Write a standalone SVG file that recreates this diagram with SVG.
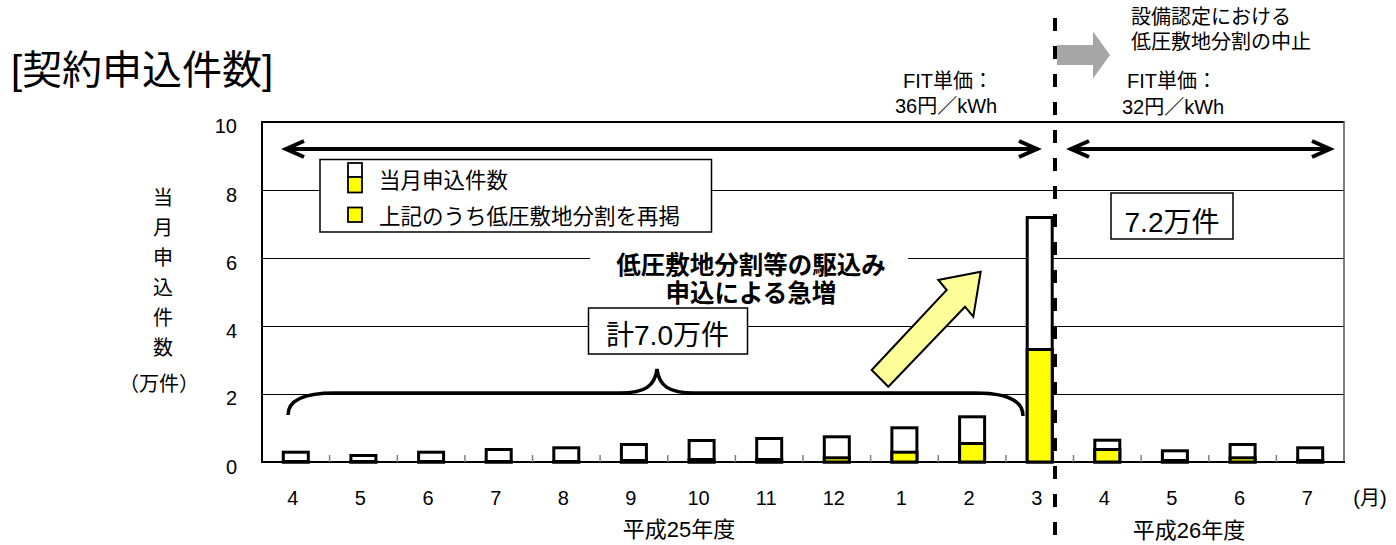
<svg xmlns="http://www.w3.org/2000/svg" width="1396" height="545" viewBox="0 0 1396 545">
<style>
text{font-family:'Liberation Sans','Noto Sans CJK JP',sans-serif;fill:#000}
.grid{stroke:#000;stroke-width:1}
.bw{fill:#fff;stroke:#000;stroke-width:3}
.by{fill:#ffff00;stroke:#000;stroke-width:3}
.tick{stroke:#7f7f7f;stroke-width:1.5}
.xl{font-size:20px;text-anchor:middle}
.yl{font-size:20px;text-anchor:end}
.box{fill:#fff;stroke:#000;stroke-width:1.5}
.dbl{stroke:#000;stroke-width:4;fill:none;marker-start:url(#chev);marker-end:url(#chev)}
</style>
<defs>
<marker id="chev" markerUnits="userSpaceOnUse" viewBox="-22 -12 24 24" markerWidth="24" markerHeight="24" refX="0" refY="0" orient="auto-start-reverse" overflow="visible">
<path d="M-19,-8 L-1,0 L-19,8" fill="none" stroke="#000" stroke-width="4"/>
</marker>
</defs>
<rect width="1396" height="545" fill="#fff"/>

<g id="title"><text x="11" y="84" font-size="40">[契約申込件数]</text></g>

<g id="plot-frame">
<line class="grid" x1="262" y1="190.5" x2="1344" y2="190.5"/>
<line class="grid" x1="262" y1="258.5" x2="1344" y2="258.5"/>
<line class="grid" x1="262" y1="326.5" x2="1344" y2="326.5"/>
<line class="grid" x1="262" y1="394.5" x2="1344" y2="394.5"/>
<line x1="262" y1="122" x2="1344" y2="122" stroke="#000" stroke-width="2"/>
<line x1="262" y1="121" x2="262" y2="463" stroke="#000" stroke-width="2"/>
<line x1="1344" y1="121" x2="1344" y2="463" stroke="#555" stroke-width="1.5"/>
</g>

<g id="y-axis">
<text class="yl" x="237" y="133">10</text>
<text class="yl" x="237" y="202">8</text>
<text class="yl" x="237" y="270">6</text>
<text class="yl" x="237" y="338">4</text>
<text class="yl" x="237" y="405">2</text>
<text class="yl" x="237" y="474">0</text>
<g font-size="20" text-anchor="middle">
<text x="163" y="204.5">当</text>
<text x="163" y="234.5">月</text>
<text x="163" y="264.5">申</text>
<text x="163" y="294.5">込</text>
<text x="163" y="324.5">件</text>
<text x="163" y="354.5">数</text>
<text x="159" y="391">（万件）</text>
</g>
</g>

<g id="legend">
<rect class="box" x="320" y="159.5" width="391.5" height="72.5"/>
<rect x="348" y="163" width="14" height="14" fill="#fff" stroke="#000" stroke-width="1.8"/>
<rect x="348" y="177" width="14" height="15.5" fill="#ffff00" stroke="#000" stroke-width="1.8"/>
<rect x="348" y="207.5" width="14" height="14.5" fill="#ffff00" stroke="#000" stroke-width="1.8"/>
<text x="379" y="187.5" font-size="21.5">当月申込件数</text>
<text x="379" y="223.5" font-size="21.5">上記のうち低圧敷地分割を再掲</text>
</g>

<g id="surge-label">
<rect x="590" y="244" width="318" height="62" fill="#fff"/>
<text x="751" y="273.5" font-size="24.5" font-weight="bold" text-anchor="middle">低圧敷地分割等の駆込み</text>
<text x="751" y="301.5" font-size="24.5" font-weight="bold" text-anchor="middle">申込による急増</text>
</g>

<g id="total-fy25">
<rect class="box" x="588.5" y="308" width="159" height="46"/>
<text x="667.5" y="345" font-size="28" text-anchor="middle">計7.0万件</text>
</g>

<g id="total-fy26">
<rect class="box" x="1111" y="193" width="122" height="46"/>
<text x="1172" y="232" font-size="28" text-anchor="middle">7.2万件</text>
</g>

<g id="bars">
<rect class="bw" x="283.3" y="452.2" width="25" height="9.8"/><rect class="by" x="283.3" y="461.5" width="25" height="0.5"/>
<rect class="bw" x="350.9" y="455.5" width="25" height="6.5"/><rect class="by" x="350.9" y="461.5" width="25" height="0.5"/>
<rect class="bw" x="418.6" y="452.2" width="25" height="9.8"/><rect class="by" x="418.6" y="461.5" width="25" height="0.5"/>
<rect class="bw" x="486.2" y="449.5" width="25" height="12.5"/><rect class="by" x="486.2" y="461.5" width="25" height="0.5"/>
<rect class="bw" x="553.8" y="447.8" width="25" height="14.2"/><rect class="by" x="553.8" y="461.5" width="25" height="0.5"/>
<rect class="bw" x="621.4" y="444.5" width="25" height="17.5"/><rect class="by" x="621.4" y="460.5" width="25" height="1.5"/>
<rect class="bw" x="689.1" y="440.5" width="25" height="21.5"/><rect class="by" x="689.1" y="459.5" width="25" height="2.5"/>
<rect class="bw" x="756.7" y="438.5" width="25" height="23.5"/><rect class="by" x="756.7" y="459.5" width="25" height="2.5"/>
<rect class="bw" x="824.3" y="436.8" width="25" height="25.2"/><rect class="by" x="824.3" y="457.8" width="25" height="4.2"/>
<rect class="bw" x="891.9" y="427.8" width="25" height="34.2"/><rect class="by" x="891.9" y="452.2" width="25" height="9.8"/>
<rect class="bw" x="959.6" y="416.8" width="25" height="45.2"/><rect class="by" x="959.6" y="443.5" width="25" height="18.5"/>
<rect class="bw" x="1027.2" y="217.5" width="25" height="244.5"/><rect class="by" x="1027.2" y="349.5" width="25" height="112.5"/>
<rect class="bw" x="1094.8" y="440.2" width="25" height="21.8"/><rect class="by" x="1094.8" y="449.5" width="25" height="12.5"/>
<rect class="bw" x="1162.4" y="450.8" width="25" height="11.2"/><rect class="by" x="1162.4" y="460.5" width="25" height="1.5"/>
<rect class="bw" x="1230.1" y="444.5" width="25" height="17.5"/><rect class="by" x="1230.1" y="457.8" width="25" height="4.2"/>
<rect class="bw" x="1297.7" y="447.8" width="25" height="14.2"/><rect class="by" x="1297.7" y="460.5" width="25" height="1.5"/>
</g>

<g id="x-axis">
<line x1="261" y1="462" x2="1345" y2="462" stroke="#000" stroke-width="2"/>
<g class="tick">
<line x1="329.6" y1="455" x2="329.6" y2="462"/><line x1="397.3" y1="455" x2="397.3" y2="462"/>
<line x1="464.9" y1="455" x2="464.9" y2="462"/><line x1="532.5" y1="455" x2="532.5" y2="462"/>
<line x1="600.1" y1="455" x2="600.1" y2="462"/><line x1="667.8" y1="455" x2="667.8" y2="462"/>
<line x1="735.4" y1="455" x2="735.4" y2="462"/><line x1="803" y1="455" x2="803" y2="462"/>
<line x1="870.6" y1="455" x2="870.6" y2="462"/><line x1="938.3" y1="455" x2="938.3" y2="462"/>
<line x1="1005.9" y1="455" x2="1005.9" y2="462"/><line x1="1073.5" y1="455" x2="1073.5" y2="462"/>
<line x1="1141.1" y1="455" x2="1141.1" y2="462"/><line x1="1208.8" y1="455" x2="1208.8" y2="462"/>
<line x1="1276.4" y1="455" x2="1276.4" y2="462"/>
</g>
<text class="xl" x="292.8" y="505">4</text>
<text class="xl" x="360.4" y="505">5</text>
<text class="xl" x="428.1" y="505">6</text>
<text class="xl" x="495.7" y="505">7</text>
<text class="xl" x="563.3" y="505">8</text>
<text class="xl" x="630.9" y="505">9</text>
<text class="xl" x="698.6" y="505">10</text>
<text class="xl" x="766.2" y="505">11</text>
<text class="xl" x="833.8" y="505">12</text>
<text class="xl" x="901.4" y="505">1</text>
<text class="xl" x="969.1" y="505">2</text>
<text class="xl" x="1036.7" y="505">3</text>
<text class="xl" x="1104.3" y="505">4</text>
<text class="xl" x="1171.9" y="505">5</text>
<text class="xl" x="1239.6" y="505">6</text>
<text class="xl" x="1307.2" y="505">7</text>
<text class="xl" x="1370" y="505">(月)</text>
<text x="679" y="537" font-size="22" text-anchor="middle">平成25年度</text>
<text x="1189" y="538" font-size="22" text-anchor="middle">平成26年度</text>
</g>

<g id="fit-labels">
<text x="903" y="88" font-size="20">FIT単価：</text>
<text x="895" y="113" font-size="20">36円／kWh</text>
<text x="1127" y="88" font-size="20">FIT単価：</text>
<text x="1122" y="114" font-size="20">32円／kWh</text>
</g>

<g id="policy-note">
<polygon points="1057,45 1093,45 1093,31.5 1110,55 1093,78.5 1093,65 1057,65" fill="#a6a6a6"/>
<text x="1131" y="23.5" font-size="20">設備認定における</text>
<text x="1131" y="48.5" font-size="20">低圧敷地分割の中止</text>
</g>

<g id="connectors">
<line x1="1055" y1="18" x2="1055" y2="545" stroke="#000" stroke-width="4" stroke-dasharray="13 15"/>
<path class="dbl" d="M285,149 L1038,149"/>
<path class="dbl" d="M1070,149 L1331,149"/>
<path d="M288,415 C288,400 303,393 335,393 L620,393 C645,393 655,386 657,369 C659,386 669,393 694,393 L975,393 C1006,393 1023,400 1023,416" fill="none" stroke="#000" stroke-width="3.5"/>
<polygon points="871.7,370 946.7,290 938.3,280 980.7,271.7 973.3,316.7 965,306.7 888.3,386.7" fill="#ffff99" stroke="#000" stroke-width="2" stroke-linejoin="miter"/>
</g>
</svg>
